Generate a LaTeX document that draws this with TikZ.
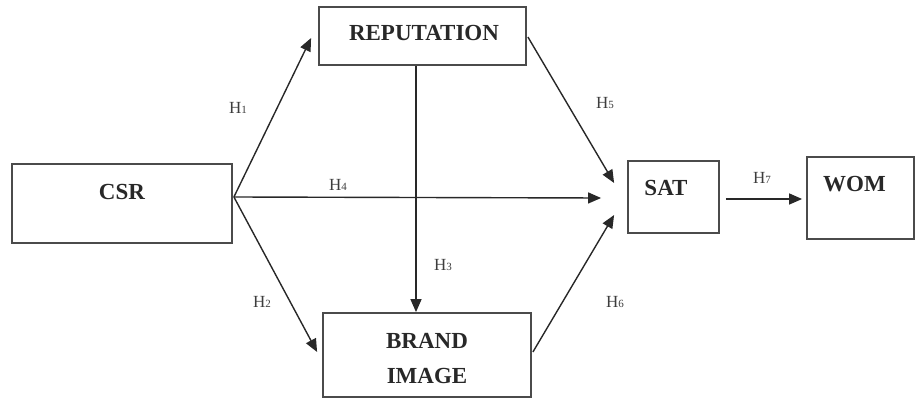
\documentclass[tikz,border=0pt]{standalone}
\usepackage{fontspec}
\setmainfont{Liberation Serif}
\usetikzlibrary{arrows.meta, positioning, calc}
\definecolor{boxgray}{RGB}{75,75,75}
\definecolor{inkdark}{RGB}{40,40,40}
\tikzset{
  varbox/.style={rectangle, draw=boxgray, line width=1.8pt, inner sep=0pt},
  vartext/.style={font=\fontsize{23}{27}\selectfont\bfseries, text=inkdark, inner sep=0pt, align=center},
  hyp/.style={font=\fontsize{17}{19}\selectfont, text=inkdark!90, inner sep=0pt},
  arrow/.style={-{Triangle[length=13pt, width=11pt]}, line width=1.4pt, color=inkdark}
}
\newcommand{\hlab}[1]{H{\fontsize{11}{12}\selectfont #1}}

\begin{document}
\begin{tikzpicture}[x=1pt, y=-1pt]
  \useasboundingbox (0,0) rectangle (916,398);
  % Constructs
  \node[varbox, minimum width=220pt, minimum height=79pt] (csr) at (122,203.5) {};
  \node[varbox, minimum width=207pt, minimum height=58pt] (rep) at (422.5,36) {};
  \node[varbox, minimum width=208pt, minimum height=84pt] (brand) at (427,355) {};
  \node[varbox, minimum width=91pt, minimum height=72pt] (sat) at (673.5,197) {};
  \node[varbox, minimum width=107pt, minimum height=82pt] (wom) at (860.5,198) {};
  \node[vartext] (csrtxt) at (122,192) {CSR};
  \node[vartext] (reptxt) at (424,33.5) {REPUTATION};
  \node[vartext] (brandtxt) at (427,341) {BRAND};
  \node[vartext] (imagetxt) at (427,375.5) {IMAGE};
  \node[vartext] (sattxt) at (666,188) {SAT};
  \node[vartext] (womtxt) at (854.5,184.5) {WOM};

  % Paths
  \coordinate (csrout) at ([xshift=1pt, yshift=6.5pt]csr.east);
  \coordinate (satin) at ([xshift=-13pt]sat.west);
  \draw[arrow] (csrout) -- ([xshift=-7pt, yshift=-2pt]rep.west);
  \draw[arrow] (csrout) -- ([xshift=-5pt, yshift=3pt]brand.west);
  \draw[arrow] (csrout) -- ([xshift=-13pt, yshift=-1pt]satin);
  \draw[arrow] ([xshift=-6.5pt]rep.south) -- ([xshift=-6.5pt]rep.south |- brand.north);
  \draw[arrow] ([xshift=1pt, yshift=-1pt]rep.east) -- ([yshift=14pt]satin);
  \draw[arrow] ([xshift=1pt, yshift=3pt]brand.east) -- ([yshift=-18pt]satin);
  \draw[arrow] ([xshift=6pt, yshift=-2pt]sat.east) -- ([xshift=-4pt, yshift=-1pt]wom.west);

  % Hypotheses
  \node[hyp] (h1) at (238,108) {\hlab{1}};
  \node[hyp] (h2) at (262,302) {\hlab{2}};
  \node[hyp] (h3) at (443,265) {\hlab{3}};
  \node[hyp] (h4) at (338,185) {\hlab{4}};
  \node[hyp] (h5) at (605,103) {\hlab{5}};
  \node[hyp] (h6) at (615,302) {\hlab{6}};
  \node[hyp] (h7) at (762,178) {\hlab{7}};
\end{tikzpicture}
\end{document}
